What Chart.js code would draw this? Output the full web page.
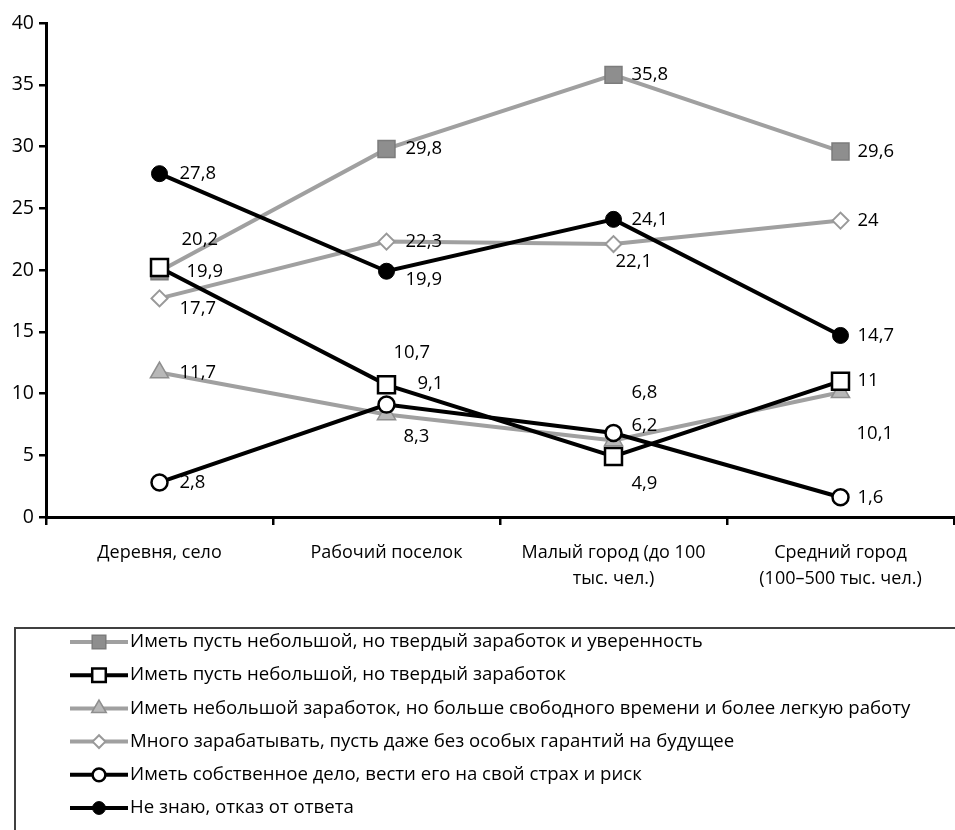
<!DOCTYPE html>
<html>
<head>
<meta charset="utf-8">
<script src="https://cdn.jsdelivr.net/npm/chart.js@4"></script>
<style>
  html, body { margin: 0; padding: 0; background: #fff; overflow: hidden; }
  #wrap { width: 955px; height: 830px; }
  canvas { display: block; }
</style>
</head>
<body>
<div id="wrap"><canvas id="chart" width="955" height="830"></canvas></div>
<script>
const categories = [
    "Деревня, село",
    "Рабочий поселок",
    ["Малый город (до 100", "тыс. чел.)"],
    ["Средний город", "(100–500 тыс. чел.)"]
];

const seriesNames = [
    "Иметь пусть небольшой, но твердый заработок и уверенность",
    "Иметь пусть небольшой, но твердый заработок",
    "Иметь небольшой заработок, но больше свободного времени и более легкую работу",
    "Много зарабатывать, пусть даже без особых гарантий на будущее",
    "Иметь собственное дело, вести его на свой страх и риск",
    "Не знаю, отказ от ответа"
];

const steadyConfident = [19.9, 29.8, 35.8, 29.6];
const steadyIncome = [20.2, 10.7, 4.9, 11];
const freeTime = [11.7, 8.3, 6.2, 10.1];
const earnMore = [17.7, 22.3, 22.1, 24];
const ownBusiness = [2.8, 9.1, 6.8, 1.6];
const dontKnow = [27.8, 19.9, 24.1, 14.7];

const yTicks = [0, 5, 10, 15, 20, 25, 30, 35, 40];

// label offsets from the point, [dx, dy] per point
const labelOffsets = [
    [[27, 0], [19, 0], [18, 0], [17, 0]],
    [[22, -28], [7, -32], [18, 27], [17, 0]],
    [[20, 0], [17, 22], [18, -15], [16, 41]],
    [[20, 10], [19, 0], [2, 18], [17, 0]],
    [[20, 0], [31, -21], [18, -40], [17, 0]],
    [[20, 0], [19, 8], [18, 0], [17, 0]]
];

const GRAY = "#a0a0a0";
const BLACK = "#000000";
const FONT = "'Open Sans', sans-serif";

const styles = [
    { line: GRAY, pointStyle: "rect", radius: 12, fill: "#8e8e8e", border: "#7c7c7c", borderW: 1.5, order: 2 },
    { line: BLACK, pointStyle: "rect", radius: 12, fill: "#ffffff", border: BLACK, borderW: 2.5, order: 1 },
    { line: GRAY, pointStyle: "triangle", radius: 10.5, fill: "#b8b8b8", border: "#8e8e8e", borderW: 1.5, order: 2 },
    { line: GRAY, pointStyle: "rectRot", radius: 8, fill: "#ffffff", border: "#999999", borderW: 2, order: 2 },
    { line: BLACK, pointStyle: "circle", radius: 8, fill: "#ffffff", border: BLACK, borderW: 2.5, order: 1 },
    { line: BLACK, pointStyle: "circle", radius: 8, fill: BLACK, border: BLACK, borderW: 1, order: 1 }
];

const seriesData = [steadyConfident, steadyIncome, freeTime, earnMore, ownBusiness, dontKnow];

const datasets = seriesData.map((values, i) => ({
    label: seriesNames[i],
    data: values,
    borderColor: styles[i].line,
    borderWidth: 4,
    tension: 0,
    pointStyle: styles[i].pointStyle,
    pointRadius: styles[i].radius,
    pointBackgroundColor: styles[i].fill,
    pointBorderColor: styles[i].border,
    pointBorderWidth: styles[i].borderW,
    order: styles[i].order,
    clip: false
}));

// value labels next to points
const valueLabels = {
    id: "valueLabels",
    afterDatasetsDraw(chart) {
        const ctx = chart.ctx;
        ctx.save();
        ctx.font = "18.5px " + FONT;
        ctx.fillStyle = "#000";
        ctx.textAlign = "left";
        ctx.textBaseline = "middle";
        chart.data.datasets.forEach((ds, i) => {
            const meta = chart.getDatasetMeta(i);
            meta.data.forEach((pt, j) => {
                const off = labelOffsets[i][j];
                const txt = String(ds.data[j]).replace(".", ",");
                ctx.fillText(txt, pt.x + off[0], pt.y + off[1]);
            });
        });
        ctx.restore();
    }
};

// boxed legend with line + marker samples
const boxLegend = {
    id: "boxLegend",
    afterDraw(chart) {
        const ctx = chart.ctx;
        ctx.save();
        ctx.strokeStyle = "#404040";
        ctx.lineWidth = 2;
        ctx.strokeRect(15, 628, 945, 210);
        ctx.font = "18.6px " + FONT;
        ctx.textBaseline = "middle";
        ctx.textAlign = "left";
        chart.data.datasets.forEach((ds, i) => {
            const y = 642 + 33.2 * i;
            ctx.strokeStyle = ds.borderColor;
            ctx.lineWidth = 4;
            ctx.beginPath();
            ctx.moveTo(70, y);
            ctx.lineTo(128, y);
            ctx.stroke();
            ctx.fillStyle = ds.pointBackgroundColor;
            ctx.strokeStyle = ds.pointBorderColor;
            ctx.lineWidth = ds.pointBorderWidth;
            Chart.helpers.drawPoint(ctx, {
                pointStyle: ds.pointStyle,
                radius: ds.pointRadius * 0.8,
                rotation: 0,
                borderWidth: ds.pointBorderWidth
            }, 99, y);
            ctx.fillStyle = "#000";
            ctx.fillText(ds.label, 130, y);
        });
        ctx.restore();
    }
};

new Chart(document.getElementById("chart"), {
    type: "line",
    data: { labels: categories, datasets: datasets },
    options: {
        responsive: false,
        animation: false,
        layout: { autoPadding: false, padding: { top: 23, right: 1, bottom: 0, left: 0 } },
        plugins: {
            legend: { display: false },
            tooltip: { enabled: false }
        },
        scales: {
            x: {
                offset: true,
                afterFit(scale) {
                    scale.height = 313;
                    scale.paddingLeft = 0;
                    scale.paddingRight = 0;
                },
                border: { color: "#000", width: 3 },
                grid: {
                    offset: true,
                    drawOnChartArea: false,
                    drawTicks: true,
                    tickLength: 8,
                    color: "#000",
                    lineWidth: 2.5
                },
                ticks: {
                    color: "#000",
                    padding: 15,
                    maxRotation: 0,
                    autoSkip: false,
                    font: { family: FONT, size: 18, lineHeight: 1.45 }
                }
            },
            y: {
                min: 0,
                max: 40,
                afterFit(scale) {
                    scale.width = 46;
                    scale.paddingTop = 0;
                    scale.paddingBottom = 0;
                },
                afterBuildTicks(scale) { scale.ticks = yTicks.map(v => ({ value: v })); },
                border: { color: "#000", width: 3 },
                grid: {
                    drawOnChartArea: false,
                    drawTicks: true,
                    tickLength: 7,
                    color: "#000",
                    lineWidth: 2.5
                },
                ticks: {
                    color: "#000",
                    padding: 5,
                    font: { family: FONT, size: 19.5 }
                }
            }
        }
    },
    plugins: [valueLabels, boxLegend]
});
</script>
</body>
</html>
